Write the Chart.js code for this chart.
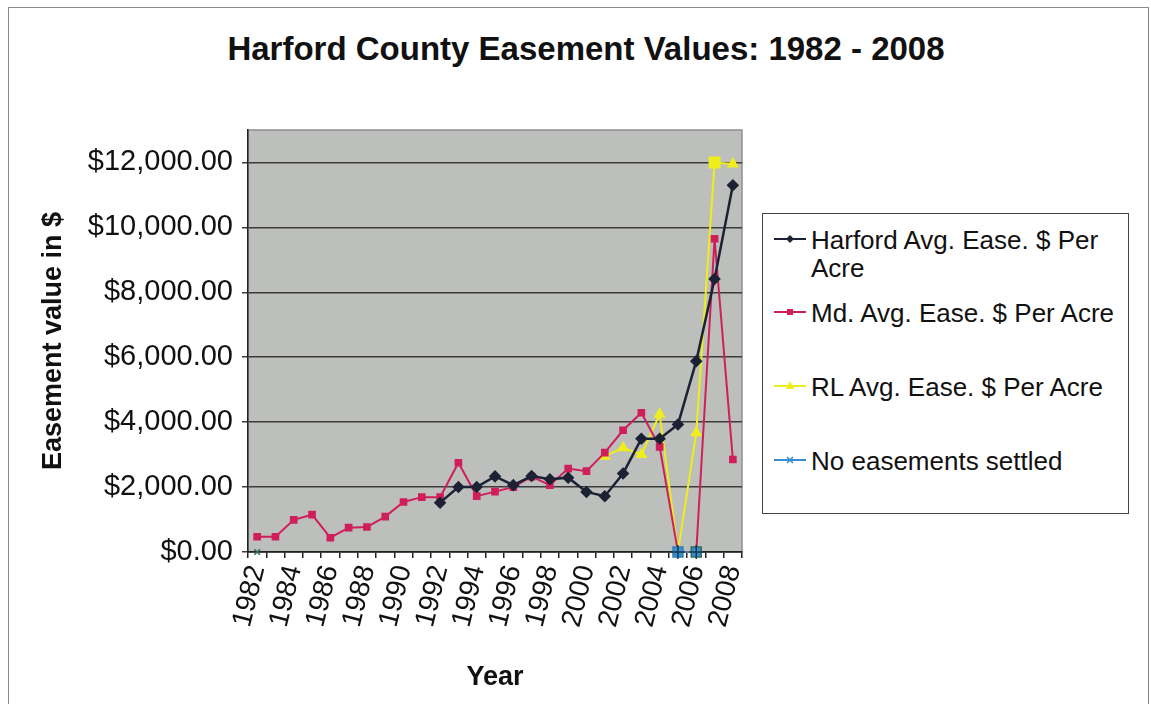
<!DOCTYPE html>
<html>
<head>
<meta charset="utf-8">
<script src="https://cdn.jsdelivr.net/npm/chart.js@4"></script>
<style>
  html, body { margin: 0; padding: 0; background: #fff; }
  body { width: 1151px; height: 704px; position: relative; overflow: hidden; font-family: Arial, "Liberation Sans", sans-serif; }
  #frame { position: absolute; left: 8px; top: 7px; width: 1139px; height: 720px; border: 1.5px solid #8a8a8a; }
  #title { position: absolute; left: 0; top: 30px; width: 1172px; text-align: center; font-weight: bold; font-size: 33px; color: #111; }
  #wrap { position: absolute; left: 0; top: 0; width: 1151px; height: 704px; }
  #legend { position: absolute; left: 762px; top: 213px; width: 365px; height: 299px; border: 1.5px solid #444; background: #fff; font-size: 26px; color: #111; }
  .item { position: absolute; left: 10px; display: flex; align-items: flex-start; line-height: 28px; }
  .item svg { flex: none; margin-top: 5px; margin-right: 4px; }
</style>
</head>
<body>
<div id="frame"></div>
<div id="title">Harford County Easement Values: 1982 - 2008</div>
<div id="wrap"><canvas id="chart" width="1151" height="704"></canvas></div>
<div id="legend"></div>
<script>
const years = ["1982","1983","1984","1985","1986","1987","1988","1989","1990","1991","1992","1993","1994","1995",
  "1996","1997","1998","1999","2000","2001","2002","2003","2004","2005","2006","2007","2008"];

const harford = [null,null,null,null,null,null,null,null,null,null,1520,2000,2000,2330,
  2060,2340,2240,2290,1850,1720,2420,3490,3490,3930,5880,8410,11300];

const maryland = [470,470,990,1150,440,750,770,1090,1540,1690,1690,2750,1720,1860,
  2000,2320,2060,2570,2490,3060,3750,4290,3240,0,0,9650,2850];

const ruralLegacy = [null,null,null,null,null,null,null,null,null,null,null,null,null,null,
  null,null,null,null,null,2950,3210,3000,4240,0,3670,12000,11950];

const noEasements = [0,null,null,null,null,null,null,null,null,null,null,null,null,null,
  null,null,null,null,null,null,null,null,null,0,0,null,null];

const yTicks = [0, 2000, 4000, 6000, 8000, 10000, 12000];

const blueStyles = noEasements.map((v, i) => i === 0 ? "crossRot" : "rect");
const blueRadius = noEasements.map((v, i) => i === 0 ? 4 : 7);
const ylwStyles = ruralLegacy.map((v, i) => i === 25 ? "rect" : "triangle");
const ylwRadius = ruralLegacy.map((v, i) => i === 25 ? 7 : 5);

const money = v => "$" + v.toLocaleString("en-US", { minimumFractionDigits: 2, maximumFractionDigits: 2 });

const plotBg = {
  id: "plotBg",
  beforeDraw(c) {
    const { ctx, chartArea: a } = c;
    ctx.save();
    ctx.fillStyle = "#bcbfbb";
    ctx.fillRect(a.left, a.top, a.width, a.height);
    ctx.strokeStyle = "#8d8f8d";
    ctx.lineWidth = 1.5;
    ctx.strokeRect(a.left, a.top, a.width, a.height);
    ctx.restore();
  }
};

// blue markers carry a dark cross like the original
const blueCross = {
  id: "blueCross",
  afterDatasetsDraw(c) {
    const meta = c.getDatasetMeta(3);
    const ctx = c.ctx;
    ctx.save();
    ctx.strokeStyle = "#153a52";
    ctx.lineWidth = 1.5;
    meta.data.forEach((p, i) => {
      if (i === 0 || noEasements[i] === null) return;
      ctx.beginPath();
      ctx.moveTo(p.x - 7, p.y); ctx.lineTo(p.x + 7, p.y);
      ctx.moveTo(p.x, p.y - 7); ctx.lineTo(p.x, p.y + 7);
      ctx.stroke();
    });
    ctx.restore();
  }
};

new Chart(document.getElementById("chart"), {
  type: "line",
  data: {
    labels: years,
    datasets: [
      { label: "Harford Avg. Ease. $ Per Acre", data: harford, borderColor: "#1c2233", backgroundColor: "#1c2233",
        borderWidth: 2.5, pointStyle: "rectRot", pointRadius: 4.5, order: 1, clip: false },
      { label: "Md. Avg. Ease. $ Per Acre", data: maryland, borderColor: "#cf1f5b", backgroundColor: "#cf1f5b",
        borderWidth: 2, pointStyle: "rect", pointRadius: 4, order: 2, clip: false },
      { label: "RL Avg. Ease. $ Per Acre", data: ruralLegacy, borderColor: "#eeee1c", backgroundColor: "#eeee1c",
        borderWidth: 2, pointStyle: ylwStyles, pointRadius: ylwRadius, order: 3, clip: false },
      { label: "No easements settled", data: noEasements, borderColor: "#3b8ccc", backgroundColor: "#3b8ccc",
        borderWidth: 1.5, pointStyle: blueStyles, pointRadius: blueRadius,
        pointBorderColor: ["#2f6b5a", "#2f7fb8"], pointBorderWidth: 1.5, order: 0, clip: false }
    ]
  },
  options: {
    responsive: false,
    animation: false,
    layout: { padding: { left: 10, top: 130, right: 409, bottom: 10 } },
    plugins: { legend: { display: false }, tooltip: { enabled: false } },
    elements: { line: { tension: 0 } },
    scales: {
      x: {
        offset: true,
        afterFit: s => { s.height = 142; },
        grid: { offset: true, drawOnChartArea: false, drawTicks: true, tickLength: 6, color: "#222", lineWidth: 1.5 },
        border: { color: "#222", width: 1.5 },
        ticks: {
          autoSkip: false, minRotation: 76, maxRotation: 76, padding: 4, color: "#111",
          font: { family: "Arial, 'Liberation Sans'", size: 28 },
          callback: (v, i) => i % 2 === 0 ? years[i] : ""
        },
        title: { display: true, text: "Year", color: "#111", padding: { top: 0, bottom: 0 },
          font: { family: "Arial, 'Liberation Sans'", size: 27, weight: "bold" } }
      },
      y: {
        min: 0, max: 13000,
        afterFit: s => { s.width = 238; },
        afterBuildTicks: s => { s.ticks = yTicks.map(v => ({ value: v })); },
        grid: { color: "#3c3c3c", lineWidth: 1.5, tickLength: 6, drawTicks: true },
        border: { color: "#222", width: 1.5 },
        ticks: { padding: 9, color: "#111", font: { family: "Arial, 'Liberation Sans'", size: 29 }, callback: v => money(v) },
        title: { display: true, text: "Easement value in $", color: "#111", padding: { top: 27, bottom: 0 },
          font: { family: "Arial, 'Liberation Sans'", size: 27, weight: "bold" } }
      }
    }
  },
  plugins: [plotBg, blueCross]
});

// legend
const legendItems = [
  { text: "Harford Avg. Ease. $ Per<br>Acre", color: "#1c2233", marker: "diamond", top: 12 },
  { text: "Md. Avg. Ease. $ Per Acre", color: "#cf1f5b", marker: "square", top: 85 },
  { text: "RL Avg. Ease. $ Per Acre", color: "#eeee1c", marker: "triangle", top: 159 },
  { text: "No easements settled", color: "#3b8ccc", marker: "x", top: 233 }
];
function markerSvg(kind, color) {
  let m = "";
  if (kind === "diamond") m = `<polygon points="17,4 21,8 17,12 13,8" fill="${color}"/>`;
  if (kind === "square") m = `<rect x="14" y="5" width="6" height="6" fill="${color}"/>`;
  if (kind === "triangle") m = `<polygon points="17,3 21,11 13,11" fill="${color}"/>`;
  if (kind === "x") m = `<path d="M14 5 L20 11 M20 5 L14 11" stroke="${color}" stroke-width="1.5"/>`;
  return `<svg width="34" height="16"><line x1="1" y1="8" x2="33" y2="8" stroke="${color}" stroke-width="2"/>${m}</svg>`;
}
const legend = document.getElementById("legend");
legendItems.forEach(it => {
  const d = document.createElement("div");
  d.className = "item";
  d.style.top = it.top + "px";
  d.innerHTML = markerSvg(it.marker, it.color) + `<span>${it.text}</span>`;
  legend.appendChild(d);
});
</script>
</body>
</html>
